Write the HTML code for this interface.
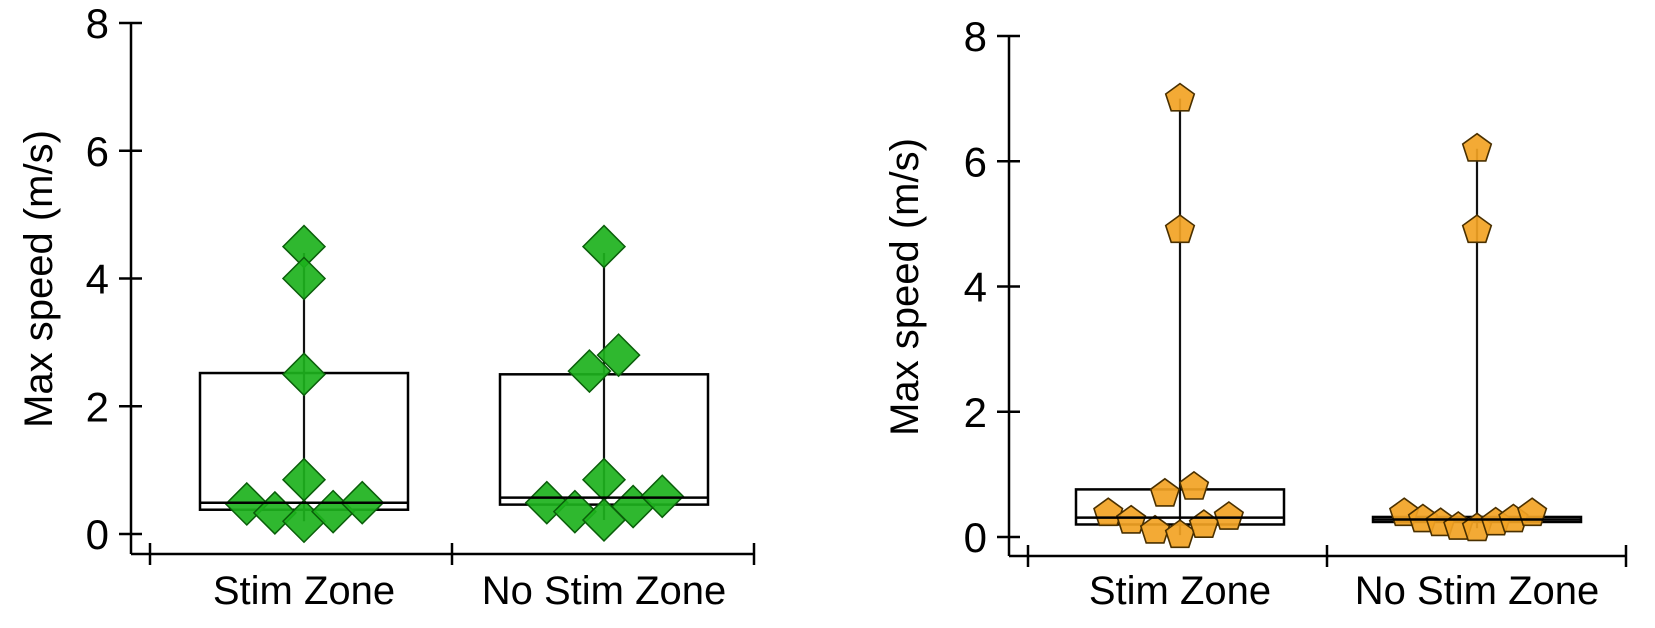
<!DOCTYPE html>
<html><head><meta charset="utf-8"><style>
html,body{margin:0;padding:0;background:#fff}
svg{display:block;font-family:"Liberation Sans",Arial,sans-serif}
</style></head><body>
<svg id="c" width="1655" height="628" viewBox="0 0 1655 628" xmlns="http://www.w3.org/2000/svg"></svg>
<script>
const categories = ["Stim Zone","No Stim Zone"];
const yTicks = [0,2,4,6,8];
// left panel (green diamonds)
const leftStimValues = [4.5,4.0,2.5,0.85,0.47,0.33,0.2,0.35,0.49];
const leftStimOffsets = [0,0,0,0,-0.55,-0.28,0,0.28,0.56];
const leftNoStimValues = [4.5,2.55,2.8,0.85,0.49,0.35,0.22,0.43,0.59];
const leftNoStimOffsets = [0,-0.14,0.14,0,-0.55,-0.28,0,0.28,0.56];
const leftStimBox = {q1:0.38, med:0.49, q3:2.52, lo:0.2, hi:4.4};
const leftNoStimBox = {q1:0.46, med:0.57, q3:2.5, lo:0.22, hi:4.4};
// right panel (orange pentagons)
const rightStimValues = [7.0,4.9,0.69,0.8,0.38,0.26,0.1,0.03,0.19,0.32];
const rightStimOffsets = [0,0,-0.145,0.135,-0.69,-0.47,-0.24,0,0.23,0.47];
const rightNoStimValues = [6.2,4.9,0.38,0.28,0.22,0.16,0.14,0.23,0.28,0.38];
const rightNoStimOffsets = [0,0,-0.70,-0.52,-0.35,-0.18,0,0.18,0.35,0.53];
const rightStimBox = {q1:0.2, med:0.31, q3:0.76, lo:0.03, hi:7.0};
const rightNoStimBox = {q1:0.24, med:0.28, q3:0.32, lo:0.14, hi:6.2};

const svg=document.getElementById('c');
const NS='http://www.w3.org/2000/svg';
function mk(t,a,p){const e=document.createElementNS(NS,t);for(const k in a)e.setAttribute(k,a[k]);(p||svg).appendChild(e);return e;}

function panel(cfg){
  const g=mk('g',{});
  
  
  const y=v=>cfg.y0+(cfg.y8-cfg.y0)*v/8;
  const ya=mk('line',{x1:cfg.ax,y1:y(8),x2:cfg.ax,y2:cfg.xy,stroke:'#000','stroke-width':2.5},g);
  
  
  yTicks.forEach(t=>{
    mk('line',{x1:cfg.ax-12,y1:y(t),x2:cfg.ax+11,y2:y(t),stroke:'#000','stroke-width':2.5},g);
    const tx=mk('text',{x:cfg.ax-22,y:y(t)+15,'text-anchor':'end','font-size':42},g);
    tx.textContent=t;
    
    
  });
  const tt=mk('text',{x:0,y:0,'text-anchor':'middle','font-size':40,transform:`translate(${cfg.tx},${cfg.ty}) rotate(-90)`},g);
  tt.textContent='Max speed (m/s)';
  
  
  const xa=mk('line',{x1:cfg.ax,y1:cfg.xy,x2:cfg.xr,y2:cfg.xy,stroke:'#000','stroke-width':2.5},g);
  
  
  [cfg.xl,cfg.xm,cfg.xr].forEach(x=>mk('line',{x1:x,y1:cfg.xy-11,x2:x,y2:cfg.xy+11,stroke:'#000','stroke-width':2.5},g));
  cfg.groups.forEach((gr,i)=>{
    const cx=cfg.centers[i], hw=cfg.hw;
    const lab=mk('text',{x:cx,y:604,'text-anchor':'middle','font-size':40},g);
    lab.textContent=categories[i];
    
    
    const b=gr.box;
    const w=mk('line',{x1:cx,y1:y(b.hi),x2:cx,y2:y(b.lo),stroke:'#111','stroke-width':2.2},g);
    
    
    const r=mk('rect',{x:cx-hw,y:y(b.q3),width:2*hw,height:y(b.q1)-y(b.q3),fill:'none',stroke:'#000','stroke-width':2.5},g);
    
    
    gr.vals.forEach((v,j)=>{
      const px=cx+gr.offs[j]*hw, py=y(v);
      let m;
      if(cfg.marker==='diamond'){
        const s=21;
        m=mk('polygon',{points:`${px},${py-s} ${px+s},${py} ${px},${py+s} ${px-s},${py}`,fill:'#1db21d',stroke:'#0a5e0a','stroke-width':1.5,'fill-opacity':0.92},g);
      } else {
        const s=15,pts=[];
        for(let k=0;k<5;k++){const a=-Math.PI/2+k*2*Math.PI/5;pts.push((px+s*Math.cos(a)).toFixed(1)+','+(py+s*Math.sin(a)).toFixed(1));}
        m=mk('polygon',{points:pts.join(' '),fill:'#f2a324',stroke:'#4a3000','stroke-width':1.6,'fill-opacity':0.92},g);
      }
      
      
    });
    const md=mk('line',{x1:cx-hw,y1:y(b.med),x2:cx+hw,y2:y(b.med),stroke:'#000','stroke-width':2.5},g);
    
    
  });
}
panel({name:'left-panel',ax:131,y0:534,y8:23,tx:52,ty:279,xl:150,xm:452,xr:754,xy:554,centers:[304,604],hw:104,marker:'diamond',
  groups:[{vals:leftStimValues,offs:leftStimOffsets,box:leftStimBox},{vals:leftNoStimValues,offs:leftNoStimOffsets,box:leftNoStimBox}]});
panel({name:'right-panel',ax:1009,y0:537,y8:36,tx:918,ty:287,xl:1028,xm:1327,xr:1626,xy:556,centers:[1180,1477],hw:104,marker:'pentagon',
  groups:[{vals:rightStimValues,offs:rightStimOffsets,box:rightStimBox},{vals:rightNoStimValues,offs:rightNoStimOffsets,box:rightNoStimBox}]});
</script>
</body></html>
